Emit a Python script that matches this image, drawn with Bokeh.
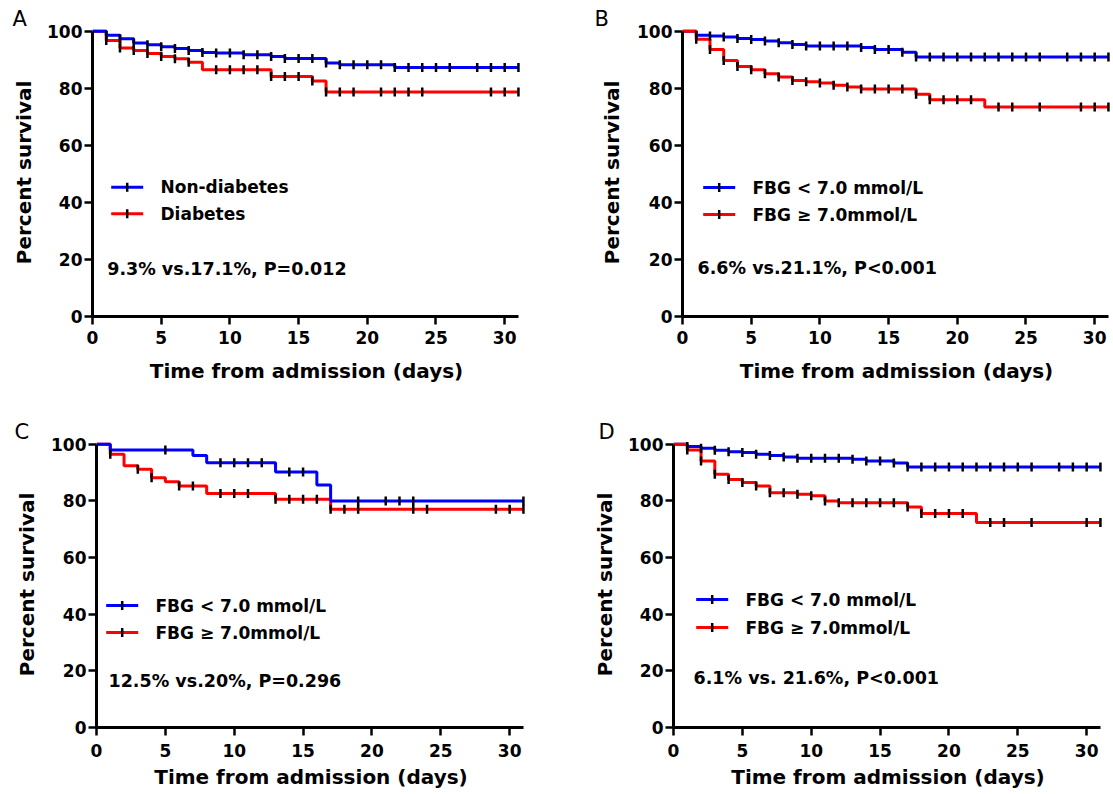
import numpy as np
from bokeh.plotting import figure
from bokeh.models import Range1d, FixedTicker, Label, Title
from bokeh.layouts import column, row
from bokeh.embed import file_html
from bokeh.resources import INLINE

# ---------------- data ----------------
x_ticks = [0, 5, 10, 15, 20, 25, 30]
y_ticks = [0, 20, 40, 60, 80, 100]

# Panel A
a_blue_t = [0, 1, 2, 3, 4, 5, 6, 7, 8, 9, 11, 13, 14, 17, 18, 22, 31]
a_blue_s = [100, 98.6, 97.4, 95.9, 95.3, 94.6, 94.0, 93.3, 92.6, 92.4, 91.8, 91.2, 90.5, 88.9, 88.3, 87.3, 87.3]
a_blue_c = list(range(1, 27)) + [28, 29, 30, 31]
a_red_t = [0, 1, 2, 3, 4, 5, 6, 7, 8, 13, 16, 17, 31]
a_red_s = [100, 96.8, 94.2, 93.3, 92.2, 91.2, 90.4, 89.2, 86.5, 84.2, 82.6, 78.7, 78.7]
a_red_c = [1, 2, 3, 4, 5, 6, 7, 9, 10, 11, 12, 13, 14, 15, 16, 17, 18, 19, 21, 22, 23, 24, 29, 30, 31]

# Panel B
b_blue_t = [0, 1, 2, 3, 4, 5, 6, 7, 8, 9, 13, 14, 16, 17, 31]
b_blue_s = [100, 98.6, 98.4, 98.0, 97.5, 97.1, 96.6, 96.0, 95.4, 94.9, 94.3, 93.6, 92.7, 91.0, 91.0]
b_blue_c = list(range(1, 27)) + [28, 29, 30, 31]
b_red_t = [0, 1, 2, 3, 4, 5, 6, 7, 8, 9, 10, 11, 12, 13, 17, 18, 22, 31]
b_red_s = [100, 97.2, 93.6, 89.8, 87.7, 86.5, 85.1, 84.0, 82.8, 82.3, 81.9, 81.1, 80.5, 79.8, 77.9, 76.0, 73.5, 73.5]
b_red_c = list(range(1, 22)) + [23, 24, 26, 29, 30, 31]

# Panel C
c_blue_t = [0, 1, 7, 8, 13, 16, 17, 31]
c_blue_s = [100, 98.0, 96.1, 93.5, 90.2, 85.6, 80.0, 80.0]
c_blue_c = [5, 9, 10, 11, 12, 14, 15, 19, 21, 22, 23, 31]
c_red_t = [0, 1, 2, 3, 4, 5, 6, 8, 13, 17, 31]
c_red_s = [100, 96.5, 92.4, 91.2, 88.2, 86.8, 85.3, 82.6, 80.6, 77.1, 77.1]
c_red_c = [1, 3, 4, 6, 7, 9, 10, 11, 13, 14, 15, 16, 17, 18, 19, 23, 24, 29, 30, 31]

# Panel D
d_blue_t = [0, 1, 2, 3, 4, 5, 6, 7, 8, 9, 13, 14, 16, 17, 31]
d_blue_s = [100, 99.2, 98.6, 97.9, 97.4, 97.1, 96.5, 96.1, 95.5, 95.1, 94.7, 94.1, 93.4, 92.0, 92.0]
d_blue_c = list(range(1, 27)) + [28, 29, 30, 31]
d_red_t = [0, 1, 2, 3, 4, 5, 6, 7, 9, 10, 11, 12, 17, 18, 22, 31]
d_red_s = [100, 98.0, 94.1, 89.4, 87.6, 86.5, 85.3, 82.9, 82.4, 81.8, 80.0, 79.4, 77.9, 75.6, 72.4, 72.4]
d_red_c = list(range(1, 22)) + [23, 24, 26, 30, 31]

legend_a = ["Non-diabetes", "Diabetes"]
legend_fbg = ["FBG < 7.0 mmol/L", "FBG \u2265 7.0mmol/L"]
stat_texts = ["9.3% vs.17.1%, P=0.012", "6.6% vs.21.1%, P<0.001",
              "12.5% vs.20%, P=0.296", "6.1% vs. 21.6%, P<0.001"]
panel_letters = ["A", "B", "C", "D"]

BLUE = "#0000FF"
RED = "#FF0000"
FONT = "DejaVu Sans"
X_END = 31.15
Y_END = 101.0


def surv_at(ts, ss, t):
    ts = np.asarray(ts, dtype=float)
    ss = np.asarray(ss, dtype=float)
    idx = np.searchsorted(ts, t, side="right") - 1
    return ss[idx]


def make_panel(width, height, bl, br, bt, bb, series, blue_on_top, labels, stat,
               stat_xy, letter, letter_offset, letter_standoff, leg, ylab_standoff,
               xtick_standoff, xlab_standoff):
    fw = width - bl - br
    fh = height - bt - bb
    sx = fw / X_END          # px per day
    sy = fh / Y_END          # px per percent
    p = figure(width=width, height=height, output_backend="svg", toolbar_location=None,
               title=None, x_range=Range1d(0, X_END), y_range=Range1d(0, Y_END),
               min_border_left=bl, min_border_right=br, min_border_top=bt,
               min_border_bottom=bb)
    p.outline_line_color = None
    p.xgrid.grid_line_color = None
    p.ygrid.grid_line_color = None
    p.background_fill_color = "white"
    p.border_fill_color = "white"

    (bt_, bs_, bc_), (rt_, rs_, rc_) = series
    order = [(RED, rt_, rs_), (BLUE, bt_, bs_)]
    if not blue_on_top:
        order = order[::-1]
    for col, t, s in order:
        p.step(x=t, y=s, mode="after", line_color=col, line_width=3)
    for t, s, c in [(bt_, bs_, bc_), (rt_, rs_, rc_)]:
        cy = surv_at(t, s, np.asarray(c, dtype=float))
        p.scatter(x=c, y=cy, marker="dash", angle=np.pi / 2, size=9,
                  line_color="black", line_width=2.5)

    for ax in (p.xaxis[0], p.yaxis[0]):
        ax.axis_line_width = 3
        ax.axis_line_color = "black"
        ax.major_tick_line_width = 2.5
        ax.major_tick_line_color = "black"
        ax.major_tick_out = 8
        ax.major_tick_in = 0
        ax.minor_tick_line_color = None
        ax.major_label_text_font = FONT
        ax.major_label_text_font_style = "bold"
        ax.major_label_text_font_size = "17px"
        ax.major_label_text_color = "black"
        ax.axis_label_text_font = FONT
        ax.axis_label_text_font_style = "bold"
        ax.axis_label_text_font_size = "20px"
        ax.axis_label_text_color = "black"
    p.xaxis.ticker = FixedTicker(ticks=x_ticks)
    p.yaxis.ticker = FixedTicker(ticks=y_ticks)
    p.xaxis.bounds = (0, 31)
    p.yaxis.bounds = (0, 100)
    p.xaxis.axis_label = "Time from admission (days)"
    p.yaxis.axis_label = "Percent survival"
    p.yaxis.major_label_standoff = 2
    p.yaxis.axis_label_standoff = ylab_standoff
    p.xaxis.major_label_standoff = xtick_standoff
    p.xaxis.axis_label_standoff = xlab_standoff

    # legend keys (line with a censor tick) + labels, placed in pixels from the frame
    lx0, ly0, key_w, gap, pitch = leg
    cols = [BLUE, RED]
    for i in range(2):
        yv = (ly0 - i * pitch) / sy
        x0 = lx0 / sx
        x1 = (lx0 + key_w) / sx
        p.line(x=[x0, x1], y=[yv, yv], line_color=cols[i], line_width=3)
        p.scatter(x=[(x0 + x1) / 2], y=[yv], marker="dash", angle=np.pi / 2, size=9,
                  line_color="black", line_width=2.5)
        p.add_layout(Label(x=(lx0 + key_w + gap) / sx, y=yv, text=labels[i],
                           text_font=FONT, text_font_style="bold",
                           text_font_size="17px", text_color="black",
                           text_align="left", text_baseline="middle"))

    p.add_layout(Label(x=stat_xy[0] / sx, y=stat_xy[1] / sy, text=stat, text_font=FONT,
                       text_font_style="bold", text_font_size="17.5px",
                       text_color="black", text_align="left",
                       text_baseline="alphabetic"))
    p.add_layout(Title(text=letter, align="left", offset=letter_offset,
                       standoff=letter_standoff, text_font=FONT,
                       text_font_style="normal", text_font_size="21px",
                       text_color="black", vertical_align="bottom"), "above")
    return p


# geometry: (width, height, border left, right, top, bottom)
pA = make_panel(560, 405, 92, 40, 28, 89,
                ((a_blue_t, a_blue_s, a_blue_c), (a_red_t, a_red_s, a_red_c)), True,
                legend_a, stat_texts[0], (14.7, 47.7), panel_letters[0], -80, -4,
                (18.7, 129.3, 32, 17.3, 26.6), 8, 6, 12)
pB = make_panel(553, 405, 122, 3, 28, 89,
                ((b_blue_t, b_blue_s, b_blue_c), (b_red_t, b_red_s, b_red_c)), False,
                legend_fbg, stat_texts[1], (15, 49), panel_letters[1], -88, -4,
                (20.7, 129, 32, 17.3, 27), 10, 6, 12)
pC = make_panel(560, 389, 96, 35, 36, 67,
                ((c_blue_t, c_blue_s, c_blue_c), (c_red_t, c_red_s, c_red_c)), True,
                legend_fbg, stat_texts[2], (12, 47), panel_letters[2], -82, -4,
                (9.7, 122, 32, 17.3, 27), 9, 8, 5)
pD = make_panel(553, 389, 113, 11, 36, 67,
                ((d_blue_t, d_blue_s, d_blue_c), (d_red_t, d_red_s, d_red_c)), False,
                legend_fbg, stat_texts[3], (20, 50), panel_letters[3], -75, -5,
                (22.7, 128, 32, 17.3, 28), 8, 8, 5)

layout = column(row(pA, pB), row(pC, pD))
open("out.html", "w").write(file_html(layout, INLINE))
